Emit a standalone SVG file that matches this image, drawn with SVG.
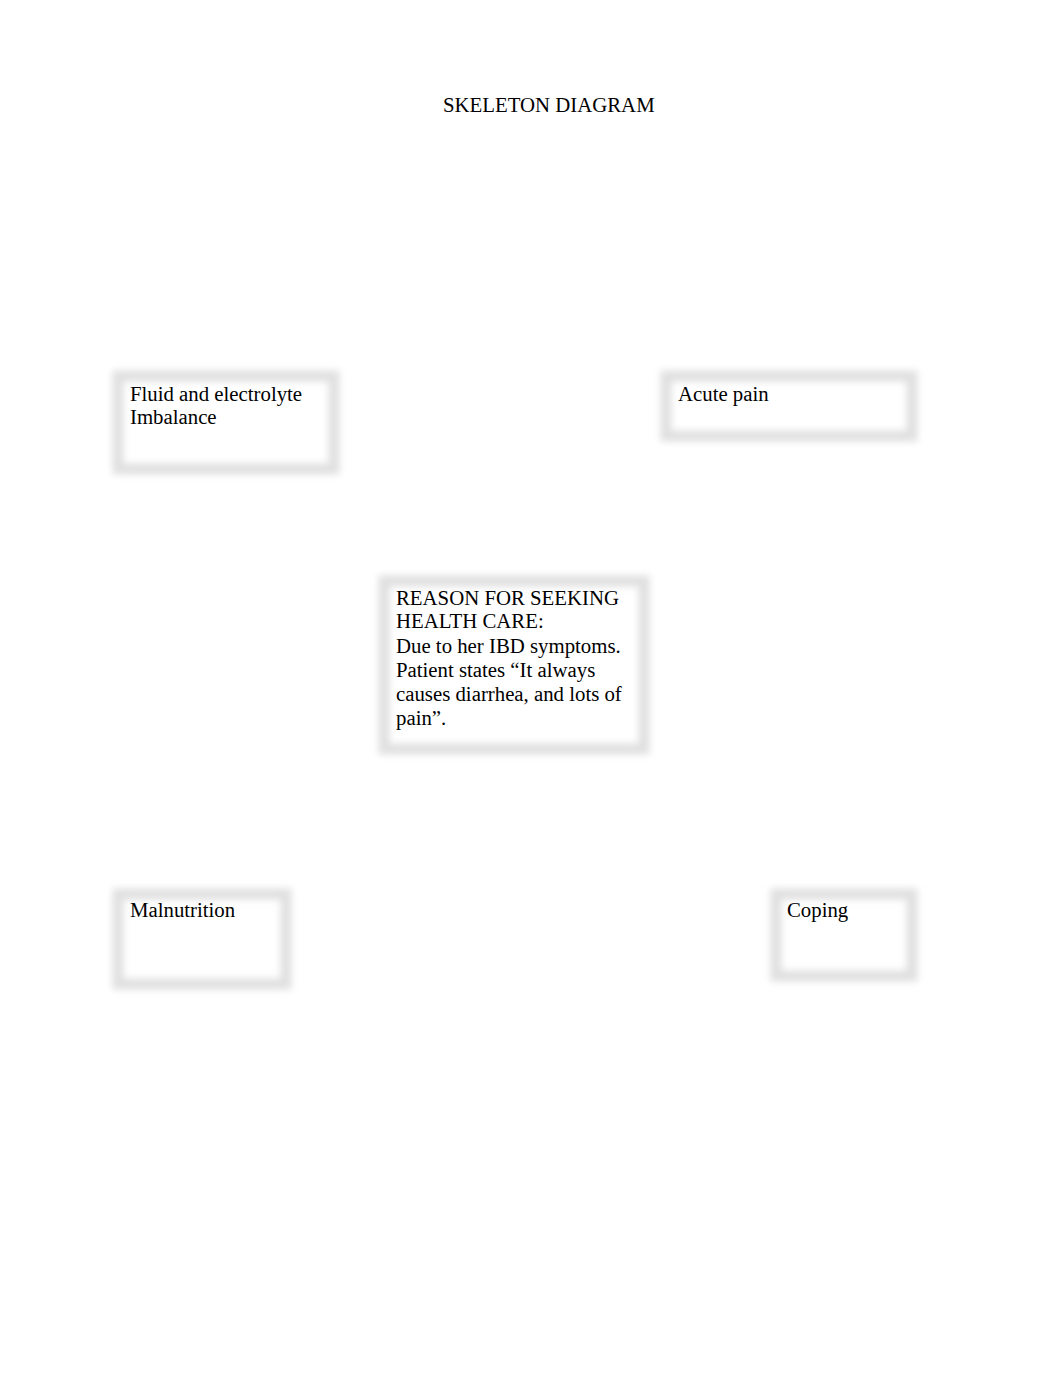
<svg xmlns="http://www.w3.org/2000/svg" width="1062" height="1377" viewBox="0 0 1062 1377">
<style>
text{font-family:"Liberation Serif","Times New Roman",serif;font-size:20.8px;fill:#000}
.box{fill:none;stroke:#e0e0e0;stroke-width:11;filter:url(#blur)}
</style>
<defs>
<filter id="blur" x="-20%" y="-20%" width="140%" height="140%"><feGaussianBlur stdDeviation="3.5"/></filter>
</defs>
<rect width="1062" height="1377" fill="#fff"/>
<text x="443" y="112" font-size="20.9">SKELETON DIAGRAM</text>
<g id="fluid">
<rect class="box" x="118" y="376" width="216" height="93"/>
<text x="130" y="401">Fluid and electrolyte</text>
<text x="130" y="424">Imbalance</text>
</g>
<g id="acute-pain">
<rect class="box" x="666" y="376" width="246" height="60"/>
<text x="678" y="401">Acute pain</text>
</g>
<g id="reason">
<rect class="box" x="384" y="581" width="260" height="168"/>
<text x="396" y="605">REASON FOR SEEKING</text>
<text x="396" y="628">HEALTH CARE:</text>
<text x="396" y="653">Due to her IBD symptoms.</text>
<text x="396" y="677">Patient states “It always</text>
<text x="396" y="701">causes diarrhea, and lots of</text>
<text x="396" y="725">pain”.</text>
</g>
<g id="malnutrition">
<rect class="box" x="118" y="894" width="168" height="90"/>
<text x="130" y="917">Malnutrition</text>
</g>
<g id="coping">
<rect class="box" x="776" y="894" width="136" height="82"/>
<text x="787" y="917">Coping</text>
</g>
<g id="connectors"></g>
</svg>
